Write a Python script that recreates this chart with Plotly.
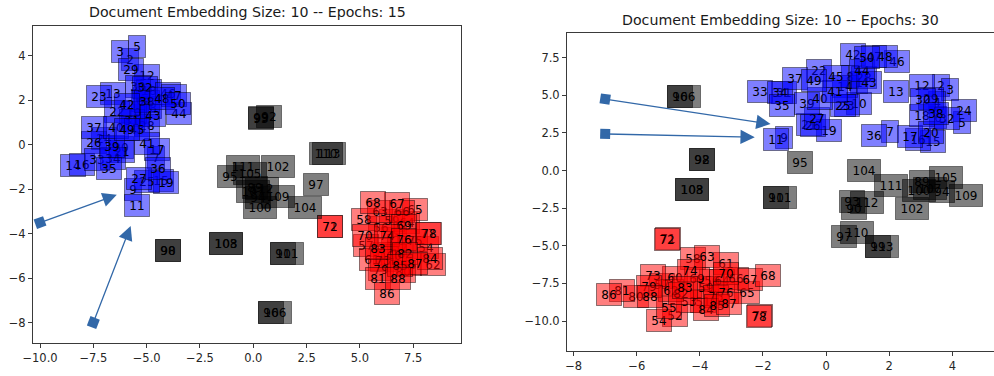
import math
import plotly.graph_objects as go

# ---- Epochs: 15 (left panel) ----
left_labels = list(range(1, 114))
left_x = [
    -5.30, -5.80, -6.25, -5.20, -5.47, -5.30, -4.55, -4.70, -5.65, -5.60,
    -5.44, -5.00, -6.56, -8.44, -4.35, -8.05, -4.53, -4.90, -4.09, -6.20,
    -6.17, -6.38, -7.25, -7.00, -5.00, -7.45, -5.34, -5.00, -5.75, -5.39,
    -5.70, -5.10, -7.34, -6.60, -6.75, -4.45, -7.47, -5.00, -6.64, -6.45,
    -4.97, -5.90, -4.72, -3.48, -5.45, -3.98, -3.70, -4.30, -5.94, -3.52,
    6.60, 6.90, 6.20, 8.10, 7.30, 6.00, 5.30, 5.19, 6.50, 6.60,
    5.55, 8.45, 5.94, 7.20, 7.58, 6.95, 6.72, 5.63, 7.05, 5.23,
    3.62, 3.60, 6.09, 6.25, 7.60, 7.06, 8.18, 8.24, 6.00, 7.00,
    5.86, 7.10, 5.86, 8.28, 6.90, 6.25, 7.58, 6.80,
    0.10, -3.98, 1.37, 0.72, 0.35, 0.23, -1.09, 0.82, 2.92, -3.98,
    0.35, 0.31, 1.56, 1.14, -1.28, 2.42, -0.16, 1.01, 0.00, -1.28,
    1.17, 3.40, -0.47, 0.40, 3.55,
]
left_y = [
    1.30, 3.85, 4.19, 2.10, 4.42, 2.00, -0.55, 1.70, -2.00, 1.45,
    -2.74, 3.10, 2.32, -0.94, -1.60, -0.87, -0.23, 2.45, -1.70, -0.10,
    -0.30, 1.49, 2.17, 0.30, -1.66, 0.10, -1.50, 0.85, 3.37, 2.62,
    1.10, 2.60, -0.68, -0.60, -1.06, -1.06, 0.77, 1.94, -0.08, 0.77,
    0.07, 1.80, 1.30, 1.42, 0.67, 2.29, 2.20, 2.10, 0.67, 1.87,
    -4.20, -4.60, -4.90, -4.60, -5.40, -3.70, -4.55, -3.35, -3.40, -5.00,
    -5.15, -5.40, -3.00, -3.50, -2.93, -3.00, -2.66, -2.58, -3.65, -4.06,
    -3.66, -3.68, -5.21, -4.06, -4.30, -4.25, -3.98, -3.98, -5.60, -5.70,
    -6.00, -4.90, -4.65, -5.10, -5.45, -6.71, -5.33, -6.00,
    -1.90, -4.76, -4.91, 1.26, 1.20, -2.36, -1.43, -7.55, -1.80, -4.76,
    1.24, -2.81, -4.91, -0.98, -4.43, -2.83, -1.28, -7.55, -2.10, -4.43,
    -2.33, -0.41, -0.98, -1.95, -0.41,
]

# ---- Epochs: 30 (right panel) ----
right_labels = list(range(1, 114))
right_x = [
    1.04, 3.63, 3.92, 3.50, 4.32, 3.55, 2.04, 0.75, -1.34, 1.04,
    -1.60, 3.05, 2.20, 0.60, 3.40, 2.91, 2.66, 3.05, 0.09, 3.31,
    -0.55, -0.23, 0.65, 4.37, 0.55, -0.40, -0.30, 1.20, 3.31, 3.08,
    -1.35, 3.84, -2.08, -1.47, -1.39, 1.51, -0.97, 3.47, -0.60, -0.18,
    0.27, 0.86, 1.36, 1.14, 0.30, 2.25, 1.51, 1.88, -0.37, 1.30,
    -3.90, -4.78, -4.35, -5.30, -4.97, -3.60, -5.20, -4.22, -3.82, -4.78,
    -3.17, -4.90, -3.77, -3.30, -2.50, -2.85, -2.40, -1.85, -4.10, -3.16,
    -5.02, -5.04, -5.48, -4.32, -3.50, -3.16, -2.10, -2.13, -5.62, -6.01,
    -6.47, -4.60, -4.46, -3.79, -3.45, -6.89, -3.08, -5.57,
    3.03, 0.88, -1.60, -3.93, 0.83, 3.68, -0.84, -4.62, 0.56, -3.93,
    1.65, 2.94, -1.47, 2.73, -4.25, 1.20, 3.81, -4.49, 3.30, -4.25,
    4.42, 0.99, 2.06, 1.30, 1.78,
]
right_y = [
    5.84, 5.68, 5.40, 4.50, 3.18, 3.50, 2.58, 6.28, 2.21, 4.47,
    2.07, 5.68, 5.24, 5.60, 1.92, 2.07, 2.25, 3.69, 2.65, 2.54,
    3.09, 6.68, 4.29, 3.98, 4.35, 3.00, 3.47, 6.20, 4.78, 4.73,
    5.17, 3.47, 5.24, 5.17, 4.35, 2.36, 6.13, 3.76, 4.47, 4.80,
    5.24, 7.74, 5.84, 6.68, 6.28, 7.23, 7.57, 7.61, 5.97, 7.52,
    -8.70, -9.60, -8.72, -9.93, -9.09, -7.30, -7.60, -5.84, -7.76, -7.10,
    -6.17, -8.00, -5.73, -7.30, -8.12, -7.20, -7.21, -6.94, -7.15, -6.83,
    -4.53, -4.55, -6.94, -6.61, -8.40, -8.12, -9.62, -9.71, -7.68, -8.34,
    -7.94, -8.16, -7.76, -9.23, -8.94, -8.21, -8.83, -8.34,
    -0.74, -2.51, -1.78, 0.74, -2.07, -1.41, 0.54, 4.91, -4.40, 0.74,
    -5.02, -1.34, -1.78, -2.51, -1.25, -0.01, -0.45, 4.91, -1.20, -1.25,
    -1.69, -4.11, -0.96, -2.11, -5.02,
]

# Arrows: tail (x0, y0) -> head (x1, y1)
left_arrow_x0 = [-10.0, -7.5]
left_arrow_y0 = [-3.5, -8.0]
left_arrow_x1 = [-6.4, -5.75]
left_arrow_y1 = [-2.25, -3.65]

right_arrow_x0 = [-7.0, -7.0]
right_arrow_y0 = [4.75, 2.43]
right_arrow_x1 = [-1.76, -2.26]
right_arrow_y1 = [3.09, 2.21]

titles = ["Document Embedding Size: 10 -- Epochs: 15",
          "Document Embedding Size: 10 -- Epochs: 30"]

left_xticks = [-10.0, -7.5, -5.0, -2.5, 0.0, 2.5, 5.0, 7.5]
left_yticks = [-8, -6, -4, -2, 0, 2, 4]
right_xticks = [-8, -6, -4, -2, 0, 2, 4]
right_yticks = [-10.0, -7.5, -5.0, -2.5, 0.0, 2.5, 5.0, 7.5]

ARROW_COLOR = "#3268a8"
FONT = "DejaVu Sans"


def class_color(n):
    if n <= 50:
        return "rgba(0,0,255,0.5)"
    if n <= 88:
        return "rgba(255,0,0,0.5)"
    return "rgba(0,0,0,0.5)"


def fmt(v, decimals):
    s = f"{abs(v):.{decimals}f}"
    return ("\u2212" + s) if v < 0 else s


fig = go.Figure()
annotations = []


def add_labels(labels, xs, ys, xref, yref):
    for n, x, y in zip(labels, xs, ys):
        text = str(n)
        annotations.append(dict(
            x=x, y=y, xref=xref, yref=yref, text=text, showarrow=False,
            xanchor="center", yanchor="middle",
            width=8 + 8 * len(text), height=21,
            font=dict(family=FONT, size=12, color="black"),
            bgcolor=class_color(n), bordercolor="rgba(0,0,0,0.45)",
            borderwidth=1, borderpad=0,
        ))


def add_arrows(x0s, y0s, x1s, y1s, xref, yref, px_per_x, px_per_y):
    for x0, y0, x1, y1 in zip(x0s, y0s, x1s, y1s):
        annotations.append(dict(
            x=x1, y=y1, ax=x0, ay=y0, xref=xref, yref=yref,
            axref=xref, ayref=yref, text="", showarrow=True,
            arrowhead=2, arrowsize=2.2, arrowwidth=1.3,
            arrowcolor=ARROW_COLOR, standoff=0, startstandoff=0,
        ))
    angles = [-math.degrees(math.atan2((y1 - y0) * px_per_y, (x1 - x0) * px_per_x))
              for x0, y0, x1, y1 in zip(x0s, y0s, x1s, y1s)]
    fig.add_trace(go.Scatter(
        x=x0s, y=y0s, xaxis=xref, yaxis=yref, mode="markers",
        marker=dict(symbol="square", size=10, color=ARROW_COLOR, angle=angles,
                    line=dict(width=0)),
        hoverinfo="skip", showlegend=False,
    ))


add_arrows(left_arrow_x0, left_arrow_y0, left_arrow_x1, left_arrow_y1,
           "x", "y", 21.33, 22.22)
add_arrows(right_arrow_x0, right_arrow_y0, right_arrow_x1, right_arrow_y1,
           "x2", "y2", 31.53, 15.05)
add_labels(left_labels, left_x, left_y, "x", "y")
add_labels(right_labels, right_x, right_y, "x2", "y2")

annotations.append(dict(x=(33 + 461) / 2 / 994, y=(376 - 12.5) / 376, xref="paper", yref="paper",
                        text=titles[0], showarrow=False, xanchor="center", yanchor="middle",
                        font=dict(family=FONT, size=14.2, color="#1a1a1a")))
annotations.append(dict(x=(567 + 994) / 2 / 994, y=(376 - 20) / 376, xref="paper", yref="paper",
                        text=titles[1], showarrow=False, xanchor="center", yanchor="middle",
                        font=dict(family=FONT, size=14.2, color="#1a1a1a")))

axis_common = dict(
    showline=True, mirror=True, linecolor="#3a3a3a", linewidth=1,
    ticks="outside", ticklen=4, tickwidth=1, tickcolor="#3a3a3a",
    showgrid=False, zeroline=False, automargin=False,
    tickfont=dict(family=FONT, size=11.5, color="#262626"),
)

fig.update_layout(
    width=994, height=376,
    margin=dict(l=0, r=0, t=0, b=0),
    paper_bgcolor="white", plot_bgcolor="white",
    showlegend=False,
    xaxis=dict(domain=[33 / 994, 461 / 994], range=[-10.33, 9.74], anchor="y",
               tickvals=left_xticks, ticktext=[fmt(v, 1) for v in left_xticks], **axis_common),
    yaxis=dict(domain=[33 / 376, 350 / 376], range=[-8.92, 5.35], anchor="x",
               tickvals=left_yticks, ticktext=[fmt(v, 0) for v in left_yticks], **axis_common),
    xaxis2=dict(domain=[567 / 994, 1.0], range=[-8.21, 5.32], anchor="y2",
                tickvals=right_xticks, ticktext=[fmt(v, 0) for v in right_xticks], **axis_common),
    yaxis2=dict(domain=[25.3 / 376, 342.7 / 376], range=[-11.97, 9.12], anchor="x2",
                tickvals=right_yticks, ticktext=[fmt(v, 1) for v in right_yticks], **axis_common),
    annotations=annotations,
)

fig.write_html("out.html")
